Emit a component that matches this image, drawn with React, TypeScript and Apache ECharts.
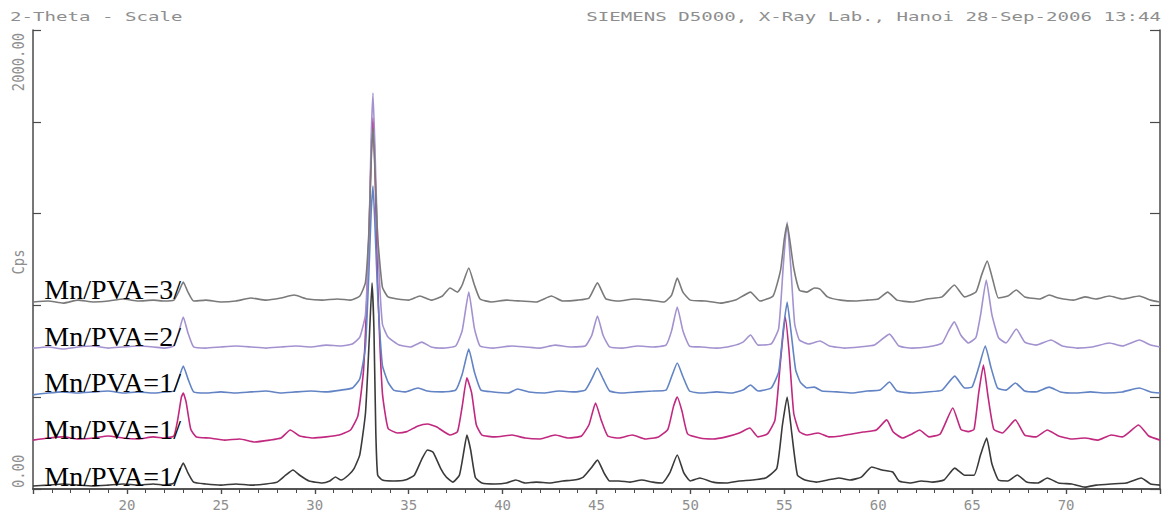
import React, { useEffect, useRef } from "react";
import * as echarts from "echarts";

// 2-theta range and ticks
const thetaMin = 15;
const thetaMax = 75;
const thetaStep = 5;
const cpsMin = 0;
const cpsMax = 2000;
const cpsStep = 400;

const headerLeft = "2-Theta - Scale";
const headerRight = "SIEMENS D5000, X-Ray Lab., Hanoi 28-Sep-2006 13:44";
const yTopLabel = "2000.00";
const yBottomLabel = "0.00";
const yName = "Cps";

const seriesNames = ["Mn/PVA=3/", "Mn/PVA=2/", "Mn/PVA=1/", "Mn/PVA=1/", "Mn/PVA=1/"];
const seriesColors = ["#7a7a7a", "#a392cf", "#6283c4", "#c1287f", "#3a3a3a"];
// baseline level of each trace (cps) where its name is written
const labelTheta = 15.6;
const labelLevels = [828, 627, 423, 222, 17];

const traceA: [number, number][] = [
  [15.0, 815], [15.8, 819], [16.6, 810], [17.4, 823], [18.2, 815], [19.0, 819], [19.8, 828], [20.6, 819],
  [21.4, 823], [22.0, 819], [22.5, 823], [22.75, 858], [23.0, 902], [23.25, 858], [23.55, 819], [24.2, 823],
  [25.0, 815], [25.8, 819], [26.6, 832], [27.4, 823], [28.2, 832], [28.9, 845], [29.6, 828], [30.4, 823],
  [31.2, 828], [31.9, 823], [32.4, 841], [32.7, 900], [32.9, 1150], [33.0, 1420], [33.1, 1573], [33.2, 1400],
  [33.35, 1100], [33.6, 880], [33.9, 837], [34.4, 828], [35.0, 823], [35.6, 841], [36.2, 823], [36.8, 841],
  [37.2, 876], [37.6, 858], [37.85, 889], [38.2, 963], [38.5, 889], [38.8, 828], [39.4, 815], [40.2, 823],
  [41.0, 819], [41.8, 815], [42.6, 841], [43.2, 819], [44.0, 823], [44.6, 832], [45.05, 898], [45.5, 828],
  [46.2, 819], [47.0, 828], [47.8, 823], [48.6, 815], [49.0, 845], [49.3, 919], [49.6, 858], [50.0, 823],
  [50.8, 819], [51.6, 810], [52.4, 823], [53.2, 858], [53.7, 819], [54.4, 841], [54.8, 954], [55.0, 1090],
  [55.15, 1155], [55.3, 1080], [55.5, 963], [55.8, 867], [56.2, 858], [56.6, 876], [56.9, 871], [57.3, 837],
  [58.0, 823], [58.8, 819], [59.4, 823], [60.0, 828], [60.5, 858], [61.0, 823], [61.8, 815], [62.6, 828],
  [63.4, 837], [64.05, 889], [64.6, 837], [65.2, 858], [65.5, 932], [65.8, 993], [66.1, 911], [66.4, 832],
  [66.9, 841], [67.35, 867], [67.8, 837], [68.6, 828], [69.1, 845], [69.6, 832], [70.4, 823], [71.0, 837],
  [71.6, 828], [72.3, 841], [73.0, 828], [73.9, 841], [74.5, 823], [75.0, 815],
];

const traceB: [number, number][] = [
  [15.0, 614], [15.8, 619], [16.6, 610], [17.4, 619], [18.2, 623], [19.0, 614], [19.8, 619], [20.6, 623],
  [21.4, 619], [22.0, 614], [22.5, 623], [22.75, 680], [23.0, 749], [23.25, 680], [23.55, 619], [24.2, 614],
  [25.0, 619], [25.8, 623], [26.6, 619], [27.4, 614], [28.2, 619], [29.0, 623], [29.8, 619], [30.6, 627],
  [31.4, 623], [32.0, 632], [32.4, 662], [32.7, 760], [32.9, 1150], [33.0, 1520], [33.1, 1725], [33.2, 1500],
  [33.35, 1080], [33.6, 720], [33.9, 662], [34.5, 627], [35.1, 619], [35.7, 640], [36.2, 619], [36.8, 614],
  [37.5, 623], [37.85, 690], [38.2, 858], [38.5, 700], [38.8, 623], [39.5, 614], [40.5, 623], [41.2, 619],
  [42.0, 614], [42.8, 627], [43.6, 619], [44.4, 623], [44.75, 670], [45.05, 754], [45.35, 670], [45.7, 619],
  [46.4, 614], [47.2, 623], [48.0, 619], [48.7, 627], [49.0, 690], [49.3, 793], [49.6, 690], [49.95, 623],
  [50.6, 619], [51.4, 614], [52.2, 623], [52.8, 640], [53.2, 671], [53.6, 627], [54.3, 632], [54.7, 700],
  [54.95, 980], [55.15, 1163], [55.35, 960], [55.55, 720], [55.8, 649], [56.3, 632], [56.9, 645], [57.4, 623],
  [58.2, 614], [59.0, 619], [59.8, 627], [60.6, 675], [61.1, 623], [61.8, 614], [62.6, 619], [63.4, 636],
  [63.75, 690], [64.05, 728], [64.4, 670], [64.8, 636], [65.2, 660], [65.45, 760], [65.75, 911], [66.05, 760],
  [66.4, 660], [66.8, 636], [67.35, 697], [67.8, 640], [68.4, 627], [69.2, 649], [69.8, 623], [70.6, 614],
  [71.4, 619], [72.3, 636], [73.0, 623], [73.9, 649], [74.5, 627], [75.0, 619],
];

const traceC: [number, number][] = [
  [15.0, 410], [15.8, 418], [16.6, 423], [17.4, 418], [18.2, 423], [19.0, 427], [19.8, 418], [20.6, 423],
  [21.4, 418], [22.0, 423], [22.5, 427], [22.75, 480], [23.0, 536], [23.25, 480], [23.55, 423], [24.2, 418],
  [25.0, 423], [25.8, 418], [26.6, 423], [27.4, 427], [28.2, 418], [29.0, 423], [29.8, 427], [30.6, 423],
  [31.4, 431], [32.0, 440], [32.4, 480], [32.7, 620], [32.9, 980], [33.0, 1200], [33.1, 1320], [33.2, 1160],
  [33.35, 850], [33.6, 540], [33.9, 466], [34.2, 431], [34.8, 423], [35.5, 440], [36.0, 427], [36.8, 423],
  [37.5, 431], [37.85, 500], [38.2, 610], [38.5, 510], [38.85, 431], [39.5, 423], [40.3, 418], [40.8, 436],
  [41.4, 423], [42.2, 418], [43.0, 427], [43.8, 423], [44.4, 431], [44.75, 480], [45.05, 527], [45.35, 480],
  [45.7, 427], [46.4, 418], [47.2, 423], [48.0, 427], [48.7, 431], [49.0, 490], [49.3, 549], [49.6, 490],
  [49.95, 427], [50.6, 418], [51.4, 423], [52.2, 418], [52.8, 431], [53.2, 453], [53.6, 427], [54.3, 440],
  [54.7, 510], [54.95, 700], [55.15, 815], [55.35, 690], [55.6, 520], [55.85, 466], [56.2, 440], [56.6, 444],
  [57.0, 427], [57.8, 423], [58.6, 418], [59.4, 427], [60.1, 431], [60.6, 466], [61.0, 427], [61.8, 418],
  [62.6, 423], [63.4, 431], [64.07, 492], [64.6, 440], [65.0, 445], [65.35, 530], [65.7, 623], [66.0, 530],
  [66.35, 440], [66.8, 431], [67.3, 462], [67.8, 427], [68.4, 423], [69.1, 444], [69.7, 423], [70.5, 418],
  [71.3, 423], [72.1, 418], [73.0, 423], [73.9, 440], [74.5, 423], [75.0, 418],
];

const traceD: [number, number][] = [
  [15.0, 213], [15.8, 222], [16.6, 227], [17.4, 218], [18.2, 222], [19.0, 231], [19.8, 222], [20.6, 218],
  [21.4, 227], [22.0, 222], [22.5, 231], [22.7, 300], [22.9, 400], [23.0, 418], [23.15, 380], [23.4, 260],
  [23.7, 227], [24.4, 222], [25.2, 213], [26.0, 218], [26.8, 205], [27.6, 213], [28.2, 222], [28.7, 257],
  [29.2, 231], [29.9, 222], [30.6, 227], [31.3, 235], [31.9, 257], [32.3, 320], [32.6, 520], [32.85, 1000],
  [33.0, 1450], [33.1, 1616], [33.2, 1420], [33.35, 900], [33.6, 420], [33.9, 265], [34.4, 244], [34.9, 250],
  [35.5, 275], [36.0, 283], [36.5, 270], [37.2, 235], [37.6, 250], [37.85, 360], [38.1, 484], [38.35, 420],
  [38.6, 280], [38.9, 235], [39.6, 227], [40.5, 235], [41.2, 222], [42.0, 218], [42.8, 235], [43.5, 222],
  [44.2, 231], [44.6, 280], [44.95, 375], [45.25, 300], [45.6, 231], [46.2, 222], [46.9, 235], [47.6, 218],
  [48.3, 227], [48.8, 260], [49.1, 360], [49.3, 401], [49.55, 340], [49.85, 240], [50.5, 222], [51.2, 218],
  [51.9, 227], [52.6, 244], [53.16, 266], [53.6, 227], [54.1, 240], [54.5, 300], [54.8, 560], [55.05, 749],
  [55.25, 600], [55.5, 330], [55.8, 250], [56.2, 235], [56.8, 244], [57.4, 227], [58.0, 231], [58.6, 240],
  [59.2, 248], [59.9, 257], [60.45, 301], [60.8, 248], [61.3, 222], [61.8, 240], [62.2, 257], [62.7, 227],
  [63.3, 240], [63.97, 353], [64.4, 260], [64.8, 250], [65.1, 260], [65.35, 420], [65.6, 540], [65.85, 400],
  [66.15, 260], [66.6, 244], [67.3, 301], [67.8, 235], [68.4, 227], [69.0, 257], [69.6, 231], [70.3, 218],
  [71.0, 222], [71.7, 213], [72.4, 235], [73.0, 227], [73.86, 279], [74.4, 231], [75.0, 213],
];

const traceE: [number, number][] = [
  [15.0, 13], [15.8, 17], [16.6, 22], [17.4, 17], [18.2, 13], [19.0, 17], [19.8, 22], [20.6, 17],
  [21.4, 22], [22.0, 17], [22.5, 26], [22.75, 70], [23.0, 113], [23.25, 70], [23.55, 30], [24.2, 22],
  [25.0, 17], [25.8, 22], [26.6, 17], [27.4, 22], [28.0, 30], [28.45, 60], [28.84, 83], [29.2, 60],
  [29.7, 35], [30.4, 26], [30.8, 35], [31.1, 52], [31.4, 39], [31.8, 61], [32.1, 90], [32.4, 150],
  [32.7, 330], [32.9, 650], [33.05, 898], [33.15, 700], [33.25, 250], [33.35, 60], [33.6, 39], [34.2, 35],
  [34.8, 39], [35.3, 60], [35.7, 130], [36.0, 170], [36.3, 160], [36.7, 90], [37.0, 52], [37.35, 30],
  [37.7, 60], [37.95, 170], [38.1, 235], [38.3, 170], [38.55, 50], [38.9, 26], [39.6, 22], [40.2, 26],
  [40.7, 39], [41.2, 26], [41.8, 30], [42.5, 26], [43.2, 35], [43.8, 39], [44.3, 52], [44.7, 90],
  [45.05, 126], [45.4, 70], [45.7, 35], [46.2, 35], [46.8, 30], [47.4, 39], [48.0, 30], [48.5, 26],
  [48.9, 70], [49.3, 148], [49.65, 70], [50.0, 35], [50.5, 48], [51.2, 30], [51.9, 26], [52.6, 35],
  [53.3, 39], [54.0, 48], [54.6, 90], [54.9, 280], [55.15, 401], [55.4, 240], [55.7, 60], [56.1, 39],
  [56.7, 30], [57.3, 39], [57.9, 48], [58.5, 39], [59.1, 52], [59.65, 96], [60.2, 83], [60.77, 74],
  [61.1, 35], [61.7, 26], [62.3, 35], [62.9, 30], [63.5, 39], [64.07, 91], [64.6, 60], [65.1, 60],
  [65.45, 150], [65.77, 222], [66.05, 110], [66.4, 39], [66.9, 35], [67.4, 61], [67.9, 30], [68.5, 26],
  [69.0, 48], [69.6, 26], [70.3, 22], [71.0, 8], [71.6, 17], [72.4, 22], [73.2, 26], [74.0, 48],
  [74.5, 22], [75.0, 17],
];

const traces = [traceA, traceB, traceC, traceD, traceE];

const MONO = '"DejaVu Sans Mono", monospace';
const GREY_TXT = "#8e8e8e";
const FRAME = "#4a4a4a";

export default function App() {
  const ref = useRef<HTMLDivElement>(null);

  useEffect(() => {
    document.body.style.margin = "0";
    if (!ref.current) return;
    const chart = echarts.init(ref.current, undefined, { renderer: "svg" });

    const axisLine = { show: true, lineStyle: { color: FRAME, width: 1.5 } };

    const option: any = {
      animation: false,
      backgroundColor: "#ffffff",
      grid: { left: 33, right: 5, top: 30, bottom: 24, containLabel: false, outerBoundsMode: "none" },
      xAxis: [
        {
          type: "value",
          min: thetaMin,
          max: thetaMax,
          interval: thetaStep,
          position: "bottom",
          axisLine,
          axisTick: { show: true, inside: false, length: 5, lineStyle: { color: FRAME, width: 1.2 } },
          minorTick: { show: true, splitNumber: 5, length: 4, lineStyle: { color: FRAME, width: 1 } },
          splitLine: { show: false },
          axisLabel: {
            show: true,
            showMinLabel: false,
            showMaxLabel: false,
            margin: 9,
            color: GREY_TXT,
            fontFamily: MONO,
            fontSize: 14,
          },
        },
        {
          type: "value",
          min: thetaMin,
          max: thetaMax,
          interval: thetaStep,
          position: "top",
          axisLine,
          axisTick: { show: true, inside: true, length: 5, lineStyle: { color: FRAME, width: 1.2 } },
          splitLine: { show: false },
          axisLabel: { show: false },
        },
      ],
      yAxis: [
        {
          type: "value",
          min: cpsMin,
          max: cpsMax,
          interval: cpsStep,
          position: "left",
          axisLine,
          axisTick: { show: true, inside: true, length: 8, lineStyle: { color: FRAME, width: 1.2 } },
          splitLine: { show: false },
          axisLabel: { show: false },
        },
        {
          type: "value",
          min: cpsMin,
          max: cpsMax,
          interval: cpsStep,
          position: "right",
          axisLine,
          axisTick: { show: true, inside: true, length: 10, lineStyle: { color: FRAME, width: 1.2 } },
          splitLine: { show: false },
          axisLabel: { show: false },
        },
      ],
      series: traces.map((data, i) => ({
        type: "line",
        name: seriesNames[i] + i,
        data,
        xAxisIndex: 0,
        yAxisIndex: 0,
        showSymbol: false,
        symbol: "none",
        smooth: 0.15,
        lineStyle: { color: seriesColors[i], width: 1.6 },
        z: 2 + (4 - i),
      })).reverse(),
    };

    chart.setOption(option);

    const labels = seriesNames.map((name, i) => {
      const p = chart.convertToPixel({ gridIndex: 0 }, [labelTheta, labelLevels[i]]) as number[];
      return {
        type: "text",
        x: p[0],
        y: p[1] - 9,
        z: 100,
        style: {
          text: name,
          font: '28px "Liberation Serif", "Times New Roman", serif',
          fill: "#000000",
          textAlign: "left",
          textVerticalAlign: "middle",
        },
      };
    });

    const topLeft = chart.convertToPixel({ gridIndex: 0 }, [thetaMin, cpsMax]) as number[];
    const botLeft = chart.convertToPixel({ gridIndex: 0 }, [thetaMin, cpsMin]) as number[];
    const topRight = chart.convertToPixel({ gridIndex: 0 }, [thetaMax, cpsMax]) as number[];

    const headerStyle = (text: string, align: string) => ({
      text,
      font: `13px ${MONO}`,
      fill: GREY_TXT,
      textAlign: align,
      textVerticalAlign: "middle",
    });

    const yLabelStyle = (text: string, align: string) => ({
      text,
      font: `15px ${MONO}`,
      fill: GREY_TXT,
      textAlign: align,
      textVerticalAlign: "middle",
    });

    chart.setOption({
      graphic: [
        { type: "text", x: 10, y: 17, scaleX: 1.47, style: headerStyle(headerLeft, "left") },
        { type: "text", x: topRight[0] + 1, y: 17, scaleX: 1.47, style: headerStyle(headerRight, "right") },
        { type: "text", x: 19, y: topLeft[1] + 3, rotation: Math.PI / 2, scaleX: 0.92, style: yLabelStyle(yTopLabel, "right") },
        { type: "text", x: 19, y: botLeft[1] - 1, rotation: Math.PI / 2, scaleX: 0.92, style: yLabelStyle(yBottomLabel, "left") },
        { type: "text", x: 19, y: 262, rotation: Math.PI / 2, scaleX: 0.92, style: yLabelStyle(yName, "center") },
        ...labels,
      ],
    });

    return () => chart.dispose();
  }, []);

  return <div ref={ref} style={{ width: 1165, height: 513 }} />;
}
